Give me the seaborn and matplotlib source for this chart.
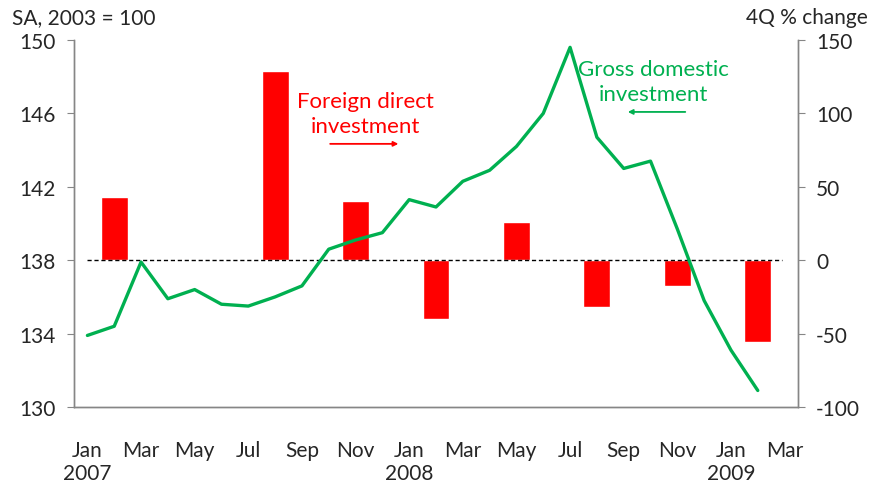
import matplotlib
matplotlib.use("Agg")
import matplotlib.pyplot as plt
import seaborn as sns
import pandas as pd
import numpy as np

months = ["Jan 2007", "Feb 2007", "Mar 2007", "Apr 2007", "May 2007", "Jun 2007",
          "Jul 2007", "Aug 2007", "Sep 2007", "Oct 2007", "Nov 2007", "Dec 2007",
          "Jan 2008", "Feb 2008", "Mar 2008", "Apr 2008", "May 2008", "Jun 2008",
          "Jul 2008", "Aug 2008", "Sep 2008", "Oct 2008", "Nov 2008", "Dec 2008",
          "Jan 2009", "Feb 2009", "Mar 2009"]

# Gross domestic investment, SA, 2003 = 100 (Jan 2007 - Feb 2009)
gdi = [133.9, 134.4, 137.9, 135.9, 136.4, 135.6, 135.5, 136.0, 136.6, 138.6,
       139.1, 139.5, 141.3, 140.9, 142.3, 142.9, 144.2, 146.0, 149.6, 144.7,
       143.0, 143.4, 139.7, 135.8, 133.1, 130.9]

# Foreign direct investment, 4Q % change (quarterly, mid-quarter months)
fdi_months = ["Feb 2007", "May 2007", "Aug 2007", "Nov 2007", "Feb 2008",
              "May 2008", "Aug 2008", "Nov 2008", "Feb 2009"]
fdi = [42.8, 1.0, 128.9, 40.5, -40.3, 25.8, -32.1, -17.3, -55.9]

tick_labels = ["Jan\n2007", "Mar", "May", "Jul", "Sep", "Nov", "Jan\n2008", "Mar",
               "May", "Jul", "Sep", "Nov", "Jan\n2009", "Mar"]

GREEN = "#00B050"
RED = "#FF0000"
GREY = "#868686"

sns.set_style("white")
plt.rcParams["font.family"] = ["Lato", "DejaVu Sans"]
plt.rcParams["axes.unicode_minus"] = False

fig = plt.figure(figsize=(8.76, 4.85), dpi=100)
ax = fig.add_axes([74 / 876, 77 / 485, 724 / 876, 367 / 485])
ax2 = ax.twinx()

df_bar = pd.DataFrame({"month": fdi_months, "fdi": fdi})
sns.barplot(data=df_bar, x="month", y="fdi", order=months, color=RED,
            saturation=1, width=1.0, ax=ax2, errorbar=None)
ax2.axhline(0, xmin=0.5 / 27, xmax=26.4 / 27, color="black", lw=1, ls=(0, (3, 2)), zorder=1)

df_line = pd.DataFrame({"pos": np.arange(len(gdi)), "gdi": gdi})
sns.lineplot(data=df_line, x="pos", y="gdi", color=GREEN, lw=2.4, ax=ax)

ax.set_zorder(ax2.get_zorder() + 1)
ax.patch.set_visible(False)

ax.set_xlim(-0.5, 26.5)
ax.set_ylim(130, 150)
ax2.set_ylim(-100, 150)
ax.set_yticks([130, 134, 138, 142, 146, 150])
ax2.set_yticks([-100, -50, 0, 50, 100, 150])
ax.set_xticks(np.arange(0, 27, 2))
ax.set_xticklabels(tick_labels, linespacing=1.15)

for a in (ax, ax2):
    a.set_xlabel("")
    a.set_ylabel("")
    for s in a.spines.values():
        s.set_color(GREY)
        s.set_linewidth(1)
    a.spines["top"].set_visible(False)

ax.tick_params(axis="y", which="major", left=True, length=5, color=GREY, labelsize=15, pad=8)
ax.tick_params(axis="x", length=0, labelsize=15, pad=24)
ax2.tick_params(axis="y", which="major", right=True, length=5, color=GREY, labelsize=15, pad=8)
ax2.tick_params(axis="x", bottom=False, labelbottom=False)

fig.text(12 / 876, 1 - 18 / 485, "SA, 2003 = 100", fontsize=15, ha="left", va="center")
fig.text(868 / 876, 1 - 18 / 485, "4Q % change", fontsize=15, ha="right", va="center")

ax.text(10.35, 0.80, "Foreign direct\ninvestment", transform=ax.get_xaxis_transform(),
        color=RED, fontsize=16, ha="center", va="center", linespacing=1.3)
ax.annotate("", xy=(11.7, 0.717), xytext=(8.95, 0.717), xycoords=ax.get_xaxis_transform(),
            arrowprops=dict(arrowstyle="-|>", color=RED, lw=1.3, mutation_scale=7))

ax.text(21.1, 0.887, "Gross domestic\ninvestment", transform=ax.get_xaxis_transform(),
        color=GREEN, fontsize=16, ha="center", va="center", linespacing=1.3)
ax.annotate("", xy=(20.05, 0.804), xytext=(22.4, 0.804), xycoords=ax.get_xaxis_transform(),
            arrowprops=dict(arrowstyle="-|>", color=GREEN, lw=1.3, mutation_scale=7))

fig.savefig("out.png", dpi=100)
